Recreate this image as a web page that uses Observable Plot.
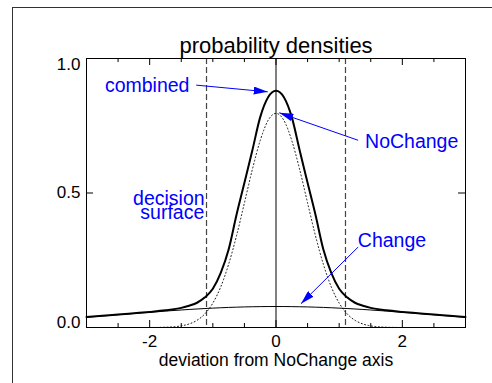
<!DOCTYPE html>
<html><head><meta charset="utf-8">
<script src="https://cdn.jsdelivr.net/npm/d3@7"></script>
<script src="https://cdn.jsdelivr.net/npm/@observablehq/plot@0.6"></script>
<style>
html,body{margin:0;padding:0;background:#fff;}
#wrap{position:relative;width:492px;height:383px;overflow:hidden;}
#wrap svg{position:absolute;left:0;top:0;}
#border{position:absolute;left:12px;top:7px;width:700px;height:700px;border:1px solid #333;box-sizing:border-box;pointer-events:none;}
</style></head><body>
<div id="wrap"><div id="border"></div></div>
<script>
// deviation values (x axis)
const xs = [-3,-2.75,-2.5,-2.25,-2,-1.75,-1.5,-1.375,-1.25,-1.125,-1,-0.875,-0.75,-0.625,-0.5,-0.375,-0.25,-0.125,0,
            0.125,0.25,0.375,0.5,0.625,0.75,0.875,1,1.125,1.25,1.375,1.5,1.75,2,2.25,2.5,2.75,3];
// combined density (thick line)
const combined = [0.039,0.0436,0.048,0.053,0.058,0.064,0.073,0.081,0.092,0.112,0.144,0.203,0.29,0.419,0.538,0.658,0.782,0.856,0.88,
                  0.856,0.782,0.658,0.538,0.419,0.29,0.203,0.144,0.112,0.092,0.081,0.073,0.064,0.058,0.053,0.048,0.0436,0.039];
// NoChange density (dotted line)
const noChange = [0,0,0,0,0,0.001,0.006,0.0132,0.0268,0.051,0.0907,0.151,0.235,0.341,0.463,0.587,0.695,0.77,0.796,
                  0.77,0.695,0.587,0.463,0.341,0.235,0.151,0.0907,0.051,0.0268,0.0132,0.006,0.001,0,0,0,0,0];
// Change density (thin line)
const change = [0.038,0.0426,0.0473,0.052,0.0566,0.0611,0.0651,0.0671,0.0688,0.0705,0.072,0.0734,0.0746,0.0756,0.0765,0.0771,0.0776,0.0779,0.078,
                0.0779,0.0776,0.0771,0.0765,0.0756,0.0746,0.0734,0.072,0.0705,0.0688,0.0671,0.0651,0.0611,0.0566,0.052,0.0473,0.0426,0.038];
// decision surface positions
const decisionX = [-1.1, 1.1];
// axis ticks and labels
const xMajorTicks = [-2, 0, 2];
const xMinorTicks = [-2.5,-1.5,-1,-0.5,0.5,1,1.5,2.5];
const xTickLabels = ["-2","0","2"];
const yTicks = [0.5];
const yLabelValues = [0, 0.5, 1.0];
const yTickLabels = ["0.0","0.5","1.0"];
const titleText = "probability densities";
const xLabelText = "deviation from NoChange axis";
// annotations
const leftLabels = ["combined"];
const leftLabelX = [-1.37];
const leftLabelY = [0.897];
const rightLabels = ["NoChange","Change"];
const rightLabelX = [1.41, 1.295];
const rightLabelY = [0.689, 0.321];
const arrowX1 = [-1.263, 1.30, 1.30];
const arrowY1 = [0.901, 0.696, 0.299];
const arrowX2 = [-0.131, 0.052, 0.395];
const arrowY2 = [0.876, 0.798, 0.0883];
const decisionLabels = ["decision","surface"];
const decisionLabelX = [-1.13, -1.135];
const decisionLabelY = [0.478, 0.427];

const rows = xs.map((x,i)=>({x, combined: combined[i], noChange: noChange[i], change: change[i]}));
const lefts = leftLabels.map((t,i)=>({t, x: leftLabelX[i], y: leftLabelY[i]}));
const rights = rightLabels.map((t,i)=>({t, x: rightLabelX[i], y: rightLabelY[i]}));
const arrows = arrowX1.map((x1,i)=>({x1, y1: arrowY1[i], x2: arrowX2[i], y2: arrowY2[i]}));
const decs = decisionLabels.map((t,i)=>({t, x: decisionLabelX[i], y: decisionLabelY[i]}));
const yLabs = yLabelValues.map((v,i)=>({v, t: yTickLabels[i]}));

const W = 492, H = 383, mL = 86, mR = 27, mT = 58, mB = 56;
const fw = W - mL - mR, fh = H - mT - mB;
const blue = "#0000ff";

const plot = Plot.plot({
  width: W, height: H,
  marginLeft: mL, marginRight: mR, marginTop: mT, marginBottom: mB,
  x: {domain: [-3, 3], axis: null},
  y: {domain: [0, 1], axis: null},
  style: {fontFamily: "'Liberation Sans', Arial, Helvetica, sans-serif", background: "transparent", color: "#000"},
  marks: [
    Plot.ruleX(decisionX, {stroke: "#444", strokeDasharray: "6,3", strokeWidth: 1.2}),
    Plot.ruleX([0], {stroke: "#000", strokeWidth: 1}),
    Plot.line(rows, {x: "x", y: "noChange", stroke: "#111", strokeWidth: 1, strokeDasharray: "1,2.5", curve: "monotone-x"}),
    Plot.line(rows, {x: "x", y: "change", stroke: "#000", strokeWidth: 1, curve: "monotone-x"}),
    Plot.line(rows, {x: "x", y: "combined", stroke: "#000", strokeWidth: 2, curve: "monotone-x"}),
    Plot.frame({stroke: "#000"}),
    Plot.tickX(xMajorTicks, {x: d => d, insetTop: fh - 7, stroke: "#000"}),
    Plot.tickX(xMajorTicks, {x: d => d, insetBottom: fh - 7, stroke: "#000"}),
    Plot.tickX(xMinorTicks, {x: d => d, insetTop: fh - 4, stroke: "#000"}),
    Plot.tickX(xMinorTicks, {x: d => d, insetBottom: fh - 4, stroke: "#000"}),
    Plot.tickY(yTicks, {y: d => d, insetRight: fw - 7, stroke: "#000"}),
    Plot.tickY(yTicks, {y: d => d, insetLeft: fw - 7, stroke: "#000"}),
    Plot.text(xMajorTicks, {x: d => d, text: (d,i) => xTickLabels[i], frameAnchor: "bottom", lineAnchor: "middle", dy: 14, fontSize: 17, fill: "#000"}),
    Plot.text(yLabs.filter(d => d.v === 0), {y: "v", text: "t", frameAnchor: "left", lineAnchor: "middle", dx: -6, dy: -4.5, textAnchor: "end", fontSize: 17, fill: "#000"}),
    Plot.text(yLabs.filter(d => d.v === 0.5), {y: "v", text: "t", frameAnchor: "left", lineAnchor: "middle", dx: -6, textAnchor: "end", fontSize: 17, fill: "#000"}),
    Plot.text(yLabs.filter(d => d.v === 1), {y: "v", text: "t", frameAnchor: "left", lineAnchor: "middle", dx: -6, dy: 6.5, textAnchor: "end", fontSize: 17, fill: "#000"}),
    Plot.text([titleText], {text: d => d, frameAnchor: "top", lineAnchor: "middle", dy: -13, fontSize: 22, fill: "#000"}),
    Plot.text([xLabelText], {text: d => d, frameAnchor: "bottom", lineAnchor: "middle", dy: 33, fontSize: 17.5, fill: "#000"}),
    Plot.link(arrows, {x1: "x1", y1: "y1", x2: "x2", y2: "y2", stroke: blue, strokeWidth: 1}),
    Plot.text(lefts, {x: "x", y: "y", text: "t", textAnchor: "end", lineAnchor: "middle", fontSize: 19.5, fill: blue}),
    Plot.text(rights, {x: "x", y: "y", text: "t", textAnchor: "start", lineAnchor: "middle", fontSize: 19.5, fill: blue}),
    Plot.text(decs, {x: "x", y: "y", text: "t", textAnchor: "end", lineAnchor: "middle", fontSize: 19.5, fill: blue})
  ]
});

// filled arrowheads for the annotation links
const ns = "http://www.w3.org/2000/svg";
const defs = document.createElementNS(ns, "defs");
const marker = document.createElementNS(ns, "marker");
marker.setAttribute("id", "ah");
marker.setAttribute("viewBox", "0 0 14 8");
marker.setAttribute("refX", "14");
marker.setAttribute("refY", "4");
marker.setAttribute("markerWidth", "14");
marker.setAttribute("markerHeight", "8");
marker.setAttribute("markerUnits", "userSpaceOnUse");
marker.setAttribute("orient", "auto");
const mp = document.createElementNS(ns, "path");
mp.setAttribute("d", "M0,0L14,4L0,8Z");
mp.setAttribute("fill", blue);
marker.appendChild(mp);
defs.appendChild(marker);
plot.insertBefore(defs, plot.firstChild);
plot.querySelectorAll('g[aria-label="link"] path').forEach(p => p.setAttribute("marker-end", "url(#ah)"));

document.getElementById("wrap").insertBefore(plot, document.getElementById("border"));
</script>
</body></html>
